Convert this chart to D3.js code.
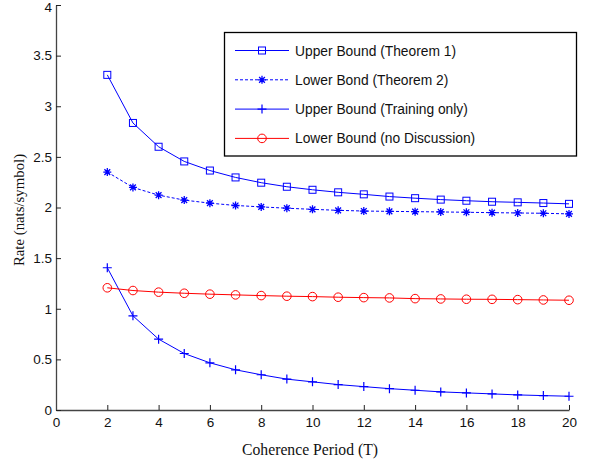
<!DOCTYPE html>
<html><head><meta charset="utf-8">
<script src="https://cdn.jsdelivr.net/npm/d3@7"></script>
<style>body{margin:0;background:#fff}svg{display:block}</style>
</head><body>
<svg id="c" width="593" height="464"></svg>
<script>
const T = [2,3,4,5,6,7,8,9,10,11,12,13,14,15,16,17,18,19,20];
const upperT1 = [3.31,2.835,2.60,2.455,2.365,2.297,2.245,2.205,2.175,2.150,2.130,2.108,2.092,2.078,2.067,2.057,2.051,2.044,2.036];
const lowerT2 = [2.35,2.198,2.122,2.073,2.043,2.020,2.006,1.993,1.982,1.972,1.965,1.962,1.959,1.956,1.953,1.949,1.946,1.943,1.937];
const upperTraining = [1.405,0.93,0.70,0.558,0.466,0.397,0.348,0.305,0.278,0.251,0.231,0.211,0.195,0.179,0.169,0.159,0.149,0.142,0.136];
const lowerNoDisc = [1.207,1.18,1.164,1.153,1.144,1.137,1.130,1.124,1.120,1.114,1.110,1.107,1.100,1.097,1.094,1.093,1.090,1.087,1.084];
const xTicks = [0,2,4,6,8,10,12,14,16,18,20];
const yTicks = [0,0.5,1,1.5,2,2.5,3,3.5,4];
const seriesNames = ["Upper Bound (Theorem 1)","Lower Bond (Theorem 2)","Upper Bound (Training only)","Lower Bound (no Discussion)"];
const xLabel = "Coherence Period (T)";
const yLabel = "Rate (nats/symbol)";

const series = [
  {name: seriesNames[0], values: upperT1, color: "#0000ff", dash: null, marker: "square"},
  {name: seriesNames[1], values: lowerT2, color: "#0000ff", dash: "3,2", marker: "star"},
  {name: seriesNames[2], values: upperTraining, color: "#0000ff", dash: null, marker: "plus"},
  {name: seriesNames[3], values: lowerNoDisc, color: "#ff0000", dash: null, marker: "circle"}
];

const svg = d3.select("#c");
const x = d3.scaleLinear().domain([0,20]).range([56,569]);
const y = d3.scaleLinear().domain([0,4]).range([410,5]);

const axisColor = "#444";
const gx = svg.append("g").attr("transform","translate(0,410)")
  .call(d3.axisBottom(x).tickValues(xTicks).tickSizeInner(-5).tickSizeOuter(0).tickPadding(7).tickFormat(d3.format("d")));
const gy = svg.append("g").attr("transform","translate(56,0)")
  .call(d3.axisLeft(y).tickValues(yTicks).tickSizeInner(-5).tickSizeOuter(0).tickPadding(4).tickFormat(d=>String(d)));
[gx,gy].forEach(g=>{
  g.select(".domain").attr("stroke",axisColor).attr("stroke-width",1.3);
  g.selectAll(".tick line").attr("stroke","#222");
  g.selectAll("text").attr("font-family","Liberation Sans, Arial, sans-serif").attr("font-size",13.5).attr("fill","#111");
});
gy.selectAll(".tick text").filter(d=>d===4).attr("dy","0.5em");

svg.append("text").attr("x",310).attr("y",455).attr("text-anchor","middle")
  .attr("font-family","Liberation Serif, Times New Roman, serif").attr("font-size",15.7).attr("fill","#111").text(xLabel);
svg.append("text").attr("transform","translate(24,210) rotate(-90)").attr("text-anchor","middle")
  .attr("font-family","Liberation Serif, Times New Roman, serif").attr("font-size",14.8).attr("fill","#111").text(yLabel);

function drawMarker(g, type, cx, cy, color){
  if(type==="square"){
    g.append("rect").attr("x",cx-3.5).attr("y",cy-3.5).attr("width",7).attr("height",7)
      .attr("fill","none").attr("stroke",color).attr("stroke-width",1);
  } else if(type==="circle"){
    g.append("circle").attr("cx",cx).attr("cy",cy).attr("r",4.3)
      .attr("fill","none").attr("stroke",color).attr("stroke-width",1);
  } else if(type==="plus"){
    g.append("path").attr("d",`M${cx-4.5},${cy}H${cx+4.5}M${cx},${cy-4.5}V${cy+4.5}`)
      .attr("stroke",color).attr("stroke-width",1.2).attr("fill","none");
  } else if(type==="star"){
    const r=4;
    let d=`M${cx-r},${cy}H${cx+r}M${cx},${cy-r}V${cy+r}`;
    const k=r*0.72;
    d+=`M${cx-k},${cy-k}L${cx+k},${cy+k}M${cx-k},${cy+k}L${cx+k},${cy-k}`;
    g.append("path").attr("d",d).attr("stroke",color).attr("stroke-width",1.3).attr("fill","none");
  }
}

const line = d3.line().x((d,i)=>x(T[i])).y(d=>y(d));
series.forEach(s=>{
  const g = svg.append("g");
  g.append("path").attr("d",line(s.values)).attr("fill","none").attr("stroke",s.color)
    .attr("stroke-width",1).attr("stroke-dasharray",s.dash);
  s.values.forEach((v,i)=>drawMarker(g,s.marker,x(T[i]),y(v),s.color));
});

// legend
const lg = svg.append("g");
lg.append("rect").attr("x",224.5).attr("y",32.5).attr("width",352).attr("height",123.5)
  .attr("fill","#fff").attr("stroke","#000").attr("stroke-width",1.3);
series.forEach((s,i)=>{
  const yy = 50.5 + i*29.3;
  lg.append("line").attr("x1",235).attr("x2",289).attr("y1",yy).attr("y2",yy)
    .attr("stroke",s.color).attr("stroke-width",1).attr("stroke-dasharray",s.dash);
  drawMarker(lg,s.marker,262,yy,s.color);
  lg.append("text").attr("x",295).attr("y",yy+5).attr("font-family","Liberation Sans, Arial, sans-serif")
    .attr("font-size",13.8).attr("fill","#111").text(s.name);
});
</script>
</body></html>
